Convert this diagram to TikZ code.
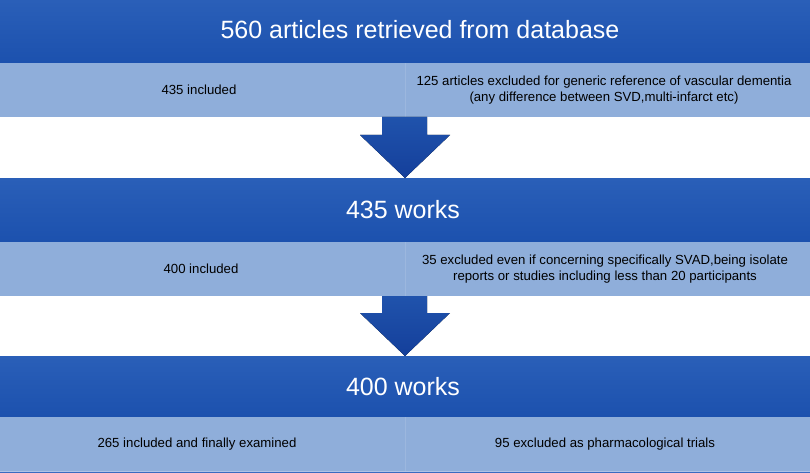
\documentclass[tikz,border=0pt]{standalone}
\usepackage{fontspec}
\setmainfont{Liberation Sans}
\definecolor{darktop}{HTML}{2A5FB8}
\definecolor{darkbot}{HTML}{1C51AE}
\definecolor{lightband}{HTML}{8FAEDA}
\definecolor{arrowtop}{HTML}{2053AC}
\definecolor{arrowbot}{HTML}{143F9B}
\definecolor{edgeline}{HTML}{3B6BC0}
\begin{document}
\begin{tikzpicture}[x=1pt,y=-1pt,
  darkband/.style={inner sep=0pt,outer sep=0pt,minimum width=810pt,anchor=north west,
    top color=darktop,bottom color=darkbot,draw=none},
  lightband/.style={inner sep=0pt,outer sep=0pt,minimum width=810pt,anchor=north west,
    fill=lightband,draw=none},
  bigtext/.style={text=white,font=\fontsize{25}{28}\selectfont,inner sep=0pt},
  smalltext/.style={text=black,font=\fontsize{13.2}{15.5}\selectfont,align=center,inner sep=0pt},
  downarrow/.style={top color=arrowtop,bottom color=arrowbot,draw=none}]
\useasboundingbox (0,0) rectangle (810,473);
\fill[white] (0,0) rectangle (810,473);
% bands
\node[darkband,minimum height=63pt] (d1) at (0,0) {};
\node[lightband,minimum height=54pt] (l1) at (0,63) {};
\node[darkband,minimum height=64pt] (d2) at (0,178) {};
\node[lightband,minimum height=54pt] (l2) at (0,242) {};
\node[darkband,minimum height=61pt] (d3) at (0,356) {};
\node[lightband,minimum height=54pt] (l3) at (0,417) {};
\fill[edgeline] (0,471) rectangle (810,473);
% faint divider lines in light bands
\foreach \b in {l1,l2,l3}{\draw[white,opacity=0.12,line width=0.6pt] (\b.north) -- (\b.south);}
\foreach \b in {l1,l2,l3}{\draw[white,opacity=0.6,line width=0.8pt] (\b.south west) -- (\b.south east);}
% arrows
\fill[downarrow] (382,117) -- (427,117) -- (427,135) -- (450,135) -- (405,178) -- (360,135) -- (382,135) -- cycle;
\fill[downarrow] (382,296) -- (427,296) -- (427,313) -- (450,313) -- (405,356) -- (360,313) -- (382,313) -- cycle;
% texts
\node[bigtext] (t1) at (420,29.5) {560 articles retrieved from database};
\node[smalltext] (i1) at (199,90) {435 included};
\node[smalltext] (e1) at (604,90) {125 articles excluded for generic reference of vascular dementia\\(any difference between SVD,multi-infarct etc)};
\node[bigtext] (t2) at (403,210) {435 works};
\node[smalltext] (i2) at (201,269) {400 included};
\node[smalltext] (e2) at (605,269) {35 excluded even if concerning specifically SVAD,being isolate\\reports or studies including less than 20 participants};
\node[bigtext] (t3) at (403,386.5) {400 works};
\node[smalltext] (i3) at (197,444) {265 included and finally examined};
\node[smalltext] (e3) at (605,444) {95 excluded as pharmacological trials};
\end{tikzpicture}
\end{document}
